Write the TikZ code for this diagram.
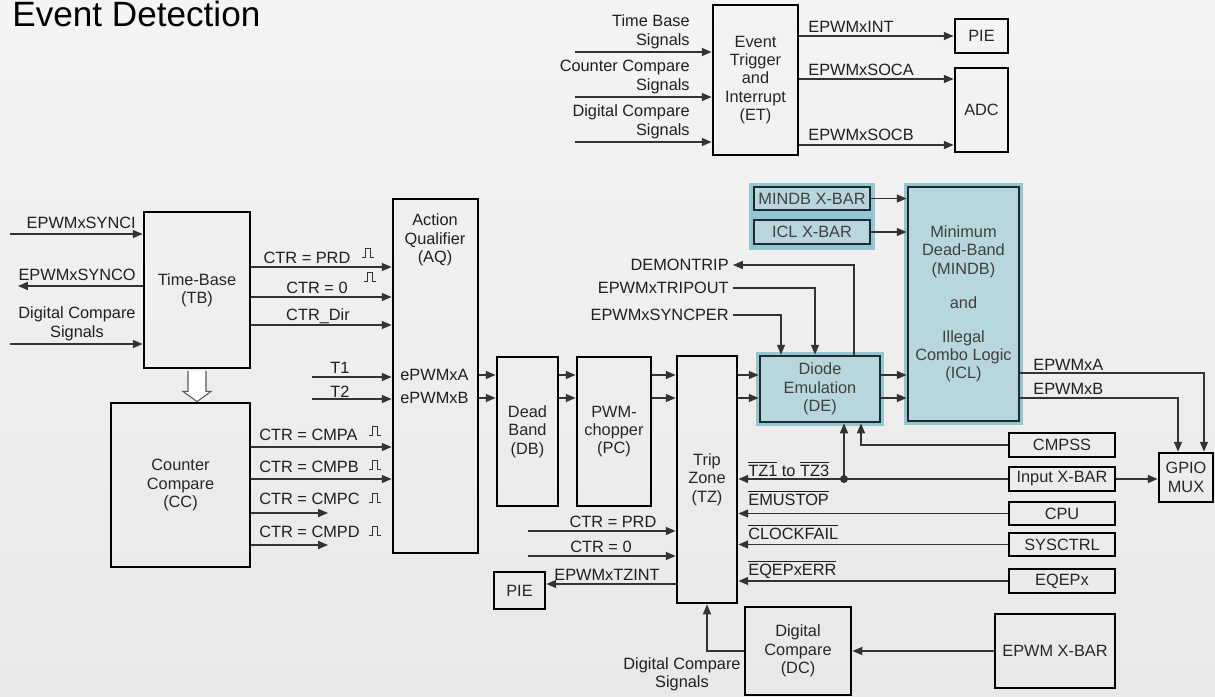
\documentclass[tikz,border=0pt]{standalone}
\usepackage{fontspec}
\setmainfont{Liberation Sans}
\usetikzlibrary{positioning,arrows.meta,calc}
\definecolor{bgtop}{HTML}{F4F4F4}
\definecolor{bgbot}{HTML}{E8E8E8}
\definecolor{wirec}{HTML}{333333}
\definecolor{tealfill}{HTML}{B8D6DD}
\definecolor{tealglow}{HTML}{93C6D1}
\definecolor{tealline}{HTML}{1C2B30}
\tikzset{
  % --- text ---------------------------------------------------------------
  ttl/.style    ={font=\fontsize{20}{24}\selectfont, inner sep=0pt, text=black},
  lbl/.style    ={font=\fontsize{9.3}{10.4}\selectfont, inner sep=0pt, text=black!88},
  % --- blocks -------------------------------------------------------------
  wh/.style 2 args={minimum width=#1*0.02cm, minimum height=#2*0.02cm},
  blk/.style    ={draw=black, line width=1.6pt, inner sep=0pt, align=center,
                  font=\fontsize{9.3}{10.4}\selectfont, text=black!85},
  tealbox/.style={blk, fill=tealfill, draw=tealline, text=black!75},
  halo/.style   ={tealbox, preaction={draw=tealglow, line width=4.5pt}},
  % --- connectors ---------------------------------------------------------
  sig/.style    ={-{Triangle[length=5.6pt,width=4.6pt]}, line width=0.7pt, draw=wirec},
  hollow/.style ={fill=white, draw=black!65, line width=0.6pt, line join=miter},
  % small square pulse next to the event labels
  pulse/.pic    ={\draw[line width=0.5pt, draw=black!80]
                  (-6,0) -- (-2.5,0) -- (-2.5,-9) -- (2.5,-9) -- (2.5,0) -- (6,0);},
}
\newcommand{\ovl}[1]{$\overline{\hbox{#1}}$}

\begin{document}
\begin{tikzpicture}[x=0.02cm, y=-0.02cm]
  \useasboundingbox (0,0) rectangle (1215,697);
  \shade[top color=bgtop, bottom color=bgbot] (0,0) rectangle (1215,697);

  \node[ttl, anchor=base west] (title) at (12,26) {Event Detection};

  % ============================ event trigger ============================
  \node[blk, wh={85}{150}] (et) at (755.5,80) {Event\\Trigger\\and\\Interrupt\\(ET)};
  \node[blk, wh={53}{34}] (pie) at (981.5,36) {PIE};
  \node[blk, wh={53}{84}] (adc) at (981.5,110) {ADC};

  \coordinate (etin1) at (575,52);
  \coordinate (etin2) at (575,97);
  \coordinate (etin3) at (575,142);
  \draw[sig] (etin1) -- (etin1 -| et.west);
  \draw[sig] (etin2) -- (etin2 -| et.west);
  \draw[sig] (etin3) -- (etin3 -| et.west);
  \node[lbl, align=right, anchor=south east] (tbsig) at (690,49) {Time Base\\Signals};
  \node[lbl, align=right, anchor=south east] (ccsig) at (690,94) {Counter Compare\\Signals};
  \node[lbl, align=right, anchor=south east] (dcsig) at (690,139) {Digital Compare\\Signals};

  \draw[sig] (pie.west -| et.east) -- (pie.west);
  \draw[sig] (et.east |- 0,79) -- (adc.west |- 0,79);
  \draw[sig] (et.east |- 0,145) -- (adc.west |- 0,145);
  \node[lbl, anchor=base west] (intlbl) at (808,32) {EPWMxINT};
  \node[lbl, anchor=base west] (socalbl) at (808,75) {EPWMxSOCA};
  \node[lbl, anchor=base west] (socblbl) at (808,140) {EPWMxSOCB};

  % ============================ time-base ============================
  \node[blk, wh={106}{156}] (tb) at (197,290) {Time-Base\\(TB)};
  \coordinate (synci) at (10,234);
  \coordinate (synco) at (18,286);
  \coordinate (tbdc) at (10,344);
  \draw[sig] (synci) -- (synci -| tb.west);
  \draw[sig] (synco -| tb.west) -- (synco);
  \draw[sig] (tbdc) -- (tbdc -| tb.west);
  \node[lbl, anchor=base east] (syncilbl) at (136,228) {EPWMxSYNCI};
  \node[lbl, anchor=base east] (syncolbl) at (136,280) {EPWMxSYNCO};
  \node[lbl, align=center, anchor=south] (tbdclbl) at (77,341) {Digital Compare\\Signals};

  % ============================ counter compare ============================
  \node[blk, wh={139}{164}] (cc) at (180.5,485) {Counter\\Compare\\(CC)};
  \draw[hollow] ($(tb.south)+(-9,1.5)$) -- ++(0,20.5) -- ++(-5,0) -- (cc.north -| tb.south)
    -- ($(tb.south)+(14,22)$) -- ++(-5,0) -- ++(0,-20.5);

  % ============================ action qualifier ============================
  \node[blk, wh={85}{354}] (aq) at (435.5,376) {};
  \node[lbl, align=center] (aqlbl) at (435,240) {Action\\Qualifier\\(AQ)};
  \node[lbl, anchor=base west] (pwmalbl) at (400,380) {ePWMxA};
  \node[lbl, anchor=base west] (pwmblbl) at (400,403) {ePWMxB};

  \draw[sig] (tb.east |- 0,267) -- (aq.west |- 0,267);
  \draw[sig] (tb.east |- 0,297) -- (aq.west |- 0,297);
  \draw[sig] (tb.east |- 0,325) -- (aq.west |- 0,325);
  \node[lbl, anchor=base] (prdlbl) at (307,263) {CTR = PRD};
  \node[lbl, anchor=base] (zerolbl) at (317,293) {CTR = 0};
  \node[lbl, anchor=base] (dirlbl) at (318,320) {CTR\_Dir};
  \pic at (368,257) {pulse};
  \pic at (370,281) {pulse};

  \coordinate (t1) at (312,377);
  \coordinate (t2) at (312,399);
  \draw[sig] (t1) -- (t1 -| aq.west);
  \draw[sig] (t2) -- (t2 -| aq.west);
  \node[lbl, anchor=base] (t1lbl) at (340,373) {T1};
  \node[lbl, anchor=base] (t2lbl) at (340,397) {T2};

  \coordinate (cmpc) at (328,513);
  \coordinate (cmpd) at (328,545);
  \draw[sig] (cc.east |- 0,447) -- (aq.west |- 0,447);
  \draw[sig] (cc.east |- 0,479) -- (aq.west |- 0,479);
  \draw[sig] (cc.east |- cmpc) -- (cmpc);
  \draw[sig] (cc.east |- cmpd) -- (cmpd);
  \node[lbl, anchor=base west] (cmpalbl) at (259,440) {CTR = CMPA};
  \node[lbl, anchor=base west] (cmpblbl) at (259,472) {CTR = CMPB};
  \node[lbl, anchor=base west] (cmpclbl) at (259,504) {CTR = CMPC};
  \node[lbl, anchor=base west] (cmpdlbl) at (259,537) {CTR = CMPD};
  \foreach \py in {435,469,502,535} \pic at (375,\py) {pulse};

  % ============================ main chain ============================
  \node[blk, wh={61}{149}] (db) at (527.5,431.5) {Dead\\Band\\(DB)};
  \node[blk, wh={74}{149}] (pc) at (614,431.5) {PWM-\\chopper\\(PC)};
  \node[blk, wh={60}{247}] (tz) at (707,479.5) {Trip\\Zone\\(TZ)};
  \node[halo, wh={120}{66}] (de) at (820,389) {Diode\\Emulation\\(DE)};
  \node[halo, wh={111}{234}] (mindb) at (963.5,304)
    {Minimum\\Dead-Band\\(MINDB)\\[9pt]and\\[9pt]Illegal\\Combo Logic\\(ICL)};

  \foreach \src/\dst in {aq/db, db/pc, pc/tz, tz/de, de/mindb} {
    \draw[sig] (\src.east |- 0,375) -- (\dst.west |- 0,375);
    \draw[sig] (\src.east |- 0,398) -- (\dst.west |- 0,398);
  }

  % ============================ x-bars into MINDB / ICL ============================
  \node[wh={126}{67}, fill=tealglow, inner sep=0pt] (xglow) at (812,216.5) {};
  \node[tealbox, wh={116}{23}] (mxbar) at (812,198.5) {MINDB X-BAR};
  \node[tealbox, wh={116}{24}] (iclx) at (812,232) {ICL X-BAR};
  \draw[sig] (mxbar.east) -- (mxbar.east -| mindb.west);
  \draw[sig] (iclx.east) -- (iclx.east -| mindb.west);

  % ============================ diode emulation top ============================
  \coordinate (demon) at (733,265);
  \coordinate (tripout) at (733,288);
  \coordinate (syncper) at (733,315);
  \draw[sig] (de.north -| 854,0) |- (demon);
  \draw[sig] (tripout) -| (de.north -| 815,0);
  \draw[sig] (syncper) -| (de.north -| 781,0);
  \node[lbl, anchor=base east] (demonlbl) at (729,270) {DEMONTRIP};
  \node[lbl, anchor=base east] (triplbl) at (729,293) {EPWMxTRIPOUT};
  \node[lbl, anchor=base east] (syncplbl) at (729,320) {EPWMxSYNCPER};

  % ============================ trip sources ============================
  \node[blk, wh={106}{24}] (cmpss) at (1062,445) {CMPSS};
  \node[blk, wh={106}{24}] (ixbar) at (1062,479) {Input X-BAR};
  \node[blk, wh={106}{23}] (cpu) at (1062,513.5) {CPU};
  \node[blk, wh={106}{23}] (sysctrl) at (1062,544.5) {SYSCTRL};
  \node[blk, wh={106}{24}] (eqep) at (1062,581) {EQEPx};
  \node[blk, wh={54}{49}] (gpio) at (1186,477.5) {GPIO\\MUX};

  \coordinate (tzdot) at (ixbar.west -| 844,0);
  \draw[sig] (ixbar.west) -- (ixbar.west -| tz.east);
  \fill[wirec] (tzdot) circle[radius=4];
  \draw[sig] (tzdot) -- (tzdot |- de.south);
  \draw[sig] (cmpss.west) -| (de.south -| 861,0);
  \draw[sig] (cpu.west) -- (cpu.west -| tz.east);
  \draw[sig] (sysctrl.west) -- (sysctrl.west -| tz.east);
  \draw[sig] (eqep.west) -- (eqep.west -| tz.east);
  \node[lbl, anchor=base west] (tzlbl) at (748,476) {\ovl{TZ1} to \ovl{TZ3}};
  \node[lbl, anchor=base west] (emulbl) at (748,505) {\ovl{EMUSTOP}};
  \node[lbl, anchor=base west] (clklbl) at (748,539) {\ovl{CLOCKFAIL}};
  \node[lbl, anchor=base west] (eqeplbl) at (748,575) {\ovl{EQEPxERR}};

  \draw[sig] (ixbar.east) -- (gpio.west |- ixbar.east);
  \draw[sig] (mindb.east |- 0,373) -| (gpio.north -| 1204,0);
  \draw[sig] (mindb.east |- 0,398) -| (gpio.north -| 1178,0);
  \node[lbl, anchor=base west] (outalbl) at (1033,370) {EPWMxA};
  \node[lbl, anchor=base west] (outblbl) at (1033,394) {EPWMxB};

  % ============================ trip zone left side ============================
  \node[blk, wh={51}{37}] (pie2) at (519.5,590.5) {PIE};
  \coordinate (tzprd) at (528,531);
  \coordinate (tzzero) at (528,556);
  \draw[sig] (tzprd) -- (tzprd -| tz.west);
  \draw[sig] (tzzero) -- (tzzero -| tz.west);
  \draw[sig] (tz.west |- 0,584) -- (pie2.east |- 0,584);
  \node[lbl, anchor=base] (tzprdlbl) at (613,527) {CTR = PRD};
  \node[lbl, anchor=base] (tzzerolbl) at (601,552) {CTR = 0};
  \node[lbl, anchor=base west] (tzintlbl) at (554,580) {EPWMxTZINT};

  % ============================ digital compare ============================
  \node[blk, wh={106}{88}] (dc) at (798,651) {Digital\\Compare\\(DC)};
  \node[blk, wh={120}{74}] (exbar) at (1055,651) {EPWM X-BAR};
  \draw[sig] (exbar.west) -- (exbar.west -| dc.east);
  \draw[sig] (dc.west) -| (tz.south);
  \node[lbl, align=center, anchor=north] (dcsiglbl) at (682,657) {Digital Compare\\Signals};
\end{tikzpicture}
\end{document}
